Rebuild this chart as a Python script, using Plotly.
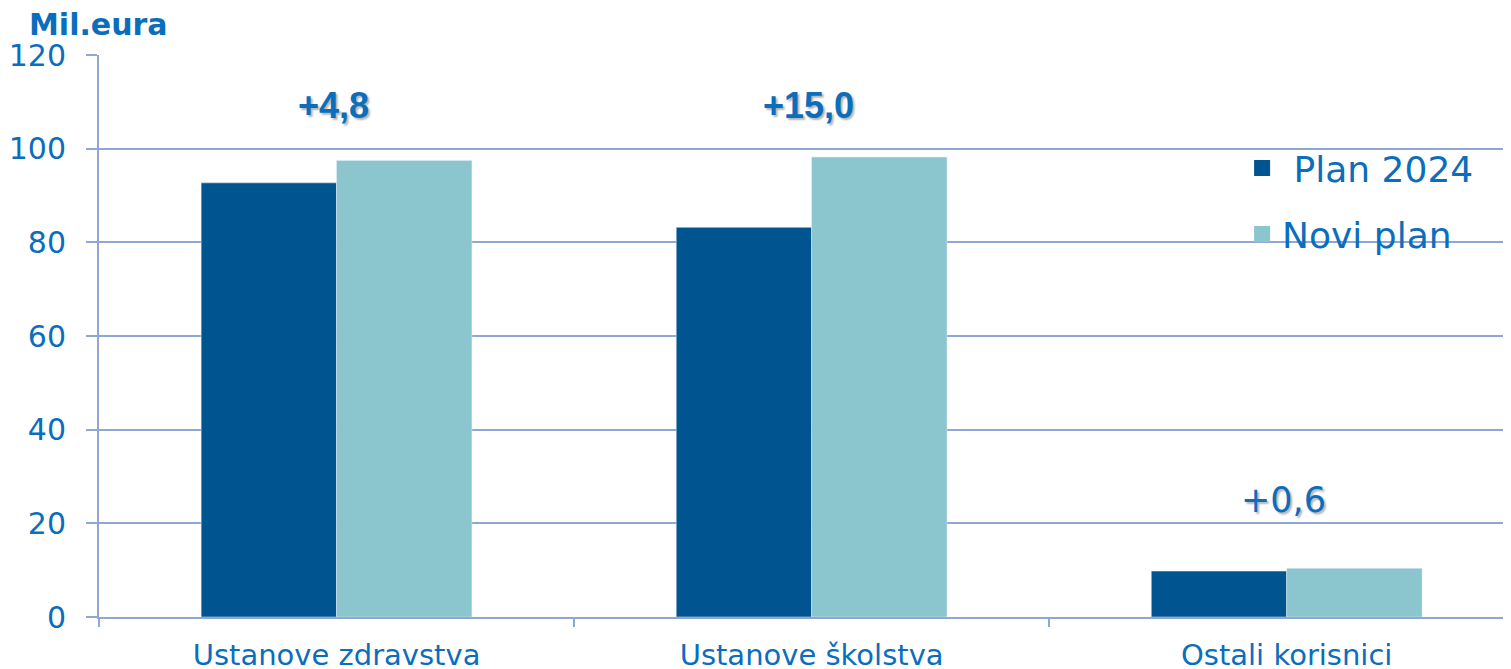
import plotly.graph_objects as go

categories = ["Ustanove zdravstva", "Ustanove školstva", "Ostali korisnici"]
plan_2024 = [92.7, 83.2, 9.8]
novi_plan = [97.5, 98.2, 10.4]
label_y = [109.3, 109.3, 25.0]
series_names = ["\u00a0Plan 2024", "Novi plan"]
y_ticks = [0, 20, 40, 60, 80, 100, 120]

TEXT = "#0A6EBD"
DARK = "#00548F"
LIGHT = "#8BC5CD"
GRID = "#8FA7D4"
FONT = "DejaVu Sans"

label_fonts = [
    dict(family="Liberation Sans", size=36, weight="bold"),
    dict(family="Liberation Sans", size=36, weight="bold"),
    dict(family=FONT, size=35, weight="normal"),
]

fig = go.Figure()
fig.add_bar(x=categories, y=plan_2024, marker_color=DARK, showlegend=False)
fig.add_bar(x=categories, y=novi_plan, marker_color=LIGHT, showlegend=False)

# legend entries
for name, col, grp in [(series_names[0], DARK, "a"), (series_names[1], LIGHT, "b")]:
    fig.add_scatter(x=[None], y=[None], mode="markers", name=name, legendgroup=grp,
                    marker=dict(symbol="square", size=21, color=col))

for cat, p, n, ly, lf in zip(categories, plan_2024, novi_plan, label_y, label_fonts):
    diff = round(n - p, 1)
    txt = ("+" if diff >= 0 else "") + f"{diff:.1f}".replace(".", ",")
    fig.add_annotation(x=cat, y=ly, text=txt, showarrow=False, xshift=-3,
                       font=dict(color=TEXT, shadow="2px 2px 2px rgba(0,0,0,0.3)", **lf))

fig.add_annotation(xref="paper", yref="paper", x=-0.051, y=1.0, xanchor="left", yanchor="bottom",
                   yshift=11, text="<b>Mil.eura</b>", showarrow=False,
                   font=dict(family=FONT, size=30, color=TEXT))

fig.update_layout(
    width=1511, height=669,
    margin=dict(l=91, r=0, t=47, b=60),
    paper_bgcolor="white", plot_bgcolor="white",
    barmode="group", bargap=0.43, bargroupgap=0,
    font=dict(family=FONT, color=TEXT),
    legend=dict(x=0.805, y=0.852, xanchor="left", yanchor="top",
                font=dict(family=FONT, size=36, color=TEXT),
                bgcolor="rgba(0,0,0,0)", tracegroupgap=16, itemclick=False),
    xaxis=dict(range=[-0.5, 2.489], showline=True, linecolor=GRID, linewidth=2,
               ticks="outside", tickson="boundaries", ticklen=8, tickcolor=GRID, tickwidth=2,
               tickfont=dict(family=FONT, size=29, color=TEXT), showgrid=False,
               ticklabelstandoff=11, automargin=False),
    yaxis=dict(range=[0, 120], tickvals=y_ticks, showline=True, linecolor=GRID, linewidth=2,
               ticks="outside", ticklen=11, tickcolor=GRID, tickwidth=2,
               showgrid=True, gridcolor=GRID, gridwidth=2, zeroline=False,
               tickfont=dict(family=FONT, size=30, color=TEXT), ticklabelstandoff=14,
               automargin=False),
)

fig.write_html("out.html")
